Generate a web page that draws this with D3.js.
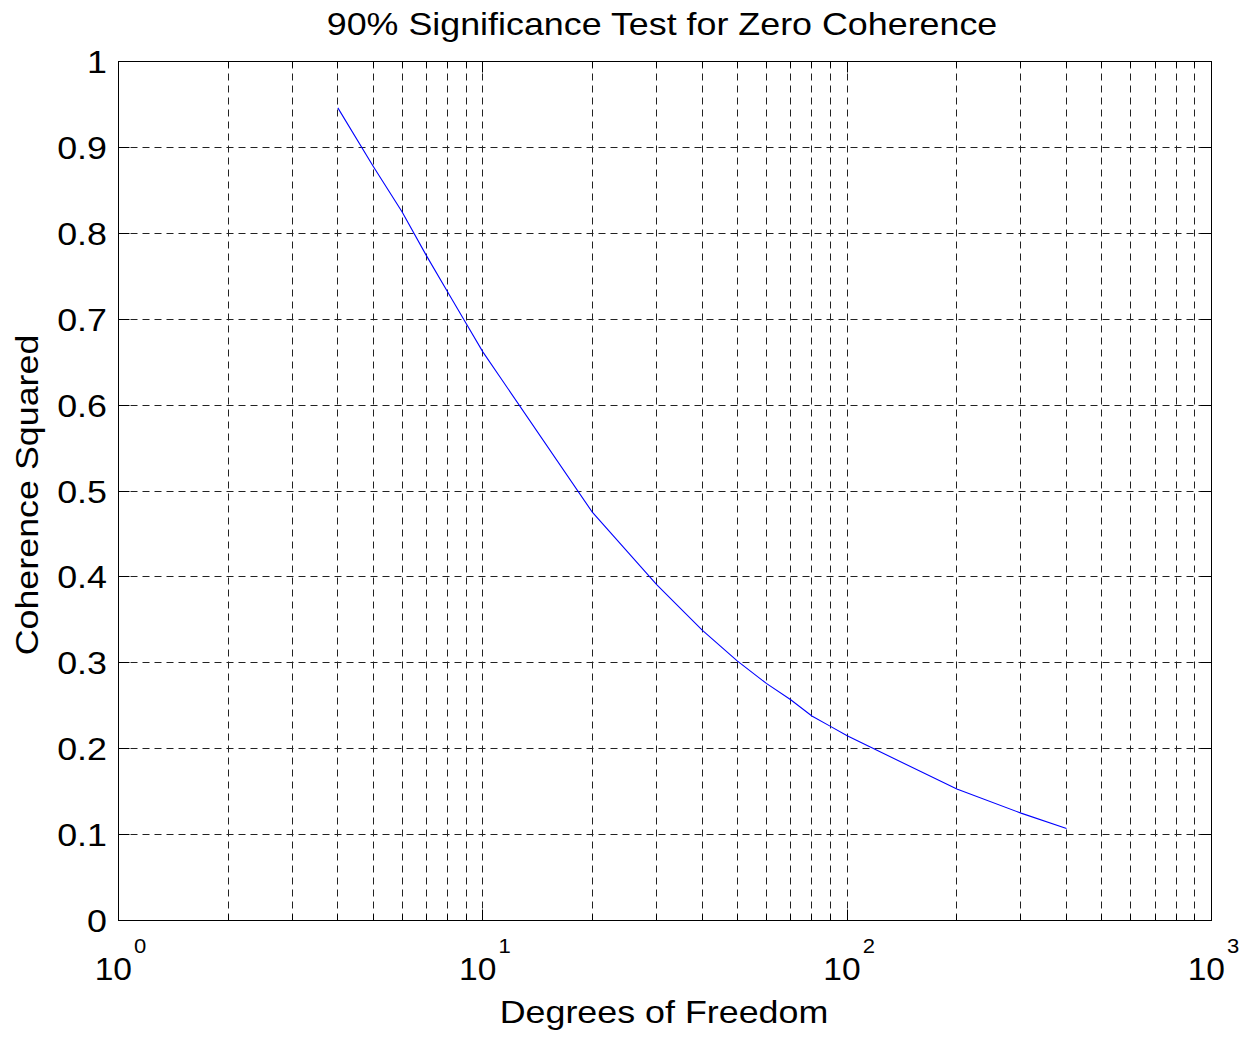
<!DOCTYPE html>
<html>
<head>
<meta charset="utf-8">
<script src="https://cdn.jsdelivr.net/npm/d3@7"></script>
<style>
  html, body { margin: 0; padding: 0; background: #fff; }
  svg { display: block; }
  text { font-family: "Liberation Sans", Arial, Helvetica, sans-serif; fill: #000; }
</style>
</head>
<body>
<svg id="chart" width="1252" height="1040"></svg>
<script>
// Degrees of freedom and the 90% significance level of coherence squared
const dof = [4, 5, 6, 7, 8, 9, 10, 20, 30, 40, 50, 60, 70, 80, 90, 100, 200, 300, 400];
const coherenceSq = [0.946, 0.878, 0.825, 0.774, 0.732, 0.695, 0.662, 0.475, 0.391, 0.338,
                     0.302, 0.276, 0.257, 0.238, 0.226, 0.215, 0.153, 0.125, 0.107];

// Axis ticks
const yTicks = [0, 0.1, 0.2, 0.3, 0.4, 0.5, 0.6, 0.7, 0.8, 0.9, 1];
const yTickLabels = ["0", "0.1", "0.2", "0.3", "0.4", "0.5", "0.6", "0.7", "0.8", "0.9", "1"];
const xDecades = [1, 10, 100, 1000];
const xExponents = ["0", "1", "2", "3"];

const titleText = "90% Significance Test for Zero Coherence";
const xLabelText = "Degrees of Freedom";
const yLabelText = "Coherence Squared";

const svg = d3.select("#chart");
const plotLeft = 118.5, plotRight = 1211.5, plotTop = 61.5, plotBottom = 920.5;

const x = d3.scaleLog().domain([1, 1000]).range([plotLeft, plotRight]);
const y = d3.scaleLinear().domain([0, 1]).range([plotBottom, plotTop]);

// minor positions along the log axis (2..9 in each decade)
const xMinor = [];
for (let d = 0; d < 3; d++) {
  for (let m = 2; m <= 9; m++) xMinor.push(m * Math.pow(10, d));
}
const snap = v => Math.round(v - 0.5) + 0.5;

const FONT = 32, SX = 1.12;

// grid
const grid = svg.append("g")
  .attr("stroke", "#222").attr("stroke-width", 1)
  .attr("stroke-dasharray", "7,5").attr("fill", "none");
grid.selectAll("line.xg").data(xMinor.concat([10, 100])).join("line")
  .attr("class", "xg")
  .attr("x1", d => snap(x(d))).attr("x2", d => snap(x(d)))
  .attr("y1", plotTop).attr("y2", plotBottom);
grid.selectAll("line.yg").data(yTicks.slice(1, -1)).join("line")
  .attr("class", "yg")
  .attr("x1", plotLeft).attr("x2", plotRight)
  .attr("y1", d => snap(y(d))).attr("y2", d => snap(y(d)));

// curve
const line = d3.line().x((d, i) => x(dof[i])).y(d => y(d));
svg.append("path")
  .datum(coherenceSq)
  .attr("d", line)
  .attr("fill", "none")
  .attr("stroke", "#0000ff")
  .attr("stroke-width", 1.1);

// ticks (inside the frame)
const ticks = svg.append("g").attr("stroke", "#000").attr("stroke-width", 1);
yTicks.forEach(t => {
  const yy = snap(y(t));
  ticks.append("line").attr("x1", plotLeft).attr("x2", plotLeft + 11).attr("y1", yy).attr("y2", yy);
  ticks.append("line").attr("x1", plotRight).attr("x2", plotRight - 11).attr("y1", yy).attr("y2", yy);
});
xDecades.forEach(t => {
  const xx = snap(x(t));
  ticks.append("line").attr("x1", xx).attr("x2", xx).attr("y1", plotBottom).attr("y2", plotBottom - 11);
  ticks.append("line").attr("x1", xx).attr("x2", xx).attr("y1", plotTop).attr("y2", plotTop + 11);
});
xMinor.forEach(t => {
  const xx = snap(x(t));
  ticks.append("line").attr("x1", xx).attr("x2", xx).attr("y1", plotBottom).attr("y2", plotBottom - 6);
  ticks.append("line").attr("x1", xx).attr("x2", xx).attr("y1", plotTop).attr("y2", plotTop + 6);
});

// frame
svg.append("rect")
  .attr("x", plotLeft).attr("y", plotTop)
  .attr("width", plotRight - plotLeft).attr("height", plotBottom - plotTop)
  .attr("fill", "none").attr("stroke", "#000").attr("stroke-width", 1);

// y tick labels
svg.append("g").selectAll("text").data(yTicks).join("text")
  .attr("transform", d => `translate(107,${y(d)}) scale(${SX},1)`)
  .attr("dy", "0.36em")
  .attr("text-anchor", "end")
  .attr("font-size", FONT)
  .text((d, i) => yTickLabels[i]);

// x tick labels: 10 with superscript exponent
const xl = svg.append("g").selectAll("text").data(xDecades).join("text")
  .attr("transform", d => `translate(${x(d) + 2},980) scale(1.05,1)`)
  .attr("text-anchor", "middle")
  .attr("font-size", FONT);
xl.append("tspan").text("10");
xl.append("tspan").attr("font-size", 21).attr("dx", 2).attr("dy", -27)
  .text((d, i) => xExponents[i]);

// title and axis labels
svg.append("text")
  .attr("transform", `translate(${(plotLeft + plotRight) / 2 - 3},35) scale(${SX},1)`)
  .attr("text-anchor", "middle").attr("font-size", FONT)
  .text(titleText);
svg.append("text")
  .attr("transform", `translate(${(plotLeft + plotRight) / 2 - 1},1023) scale(${SX},1)`)
  .attr("text-anchor", "middle").attr("font-size", FONT)
  .text(xLabelText);
svg.append("text")
  .attr("transform", `translate(38,${(plotTop + plotBottom) / 2 + 4}) rotate(-90) scale(${SX},1)`)
  .attr("text-anchor", "middle").attr("font-size", FONT)
  .text(yLabelText);
</script>
</body>
</html>
